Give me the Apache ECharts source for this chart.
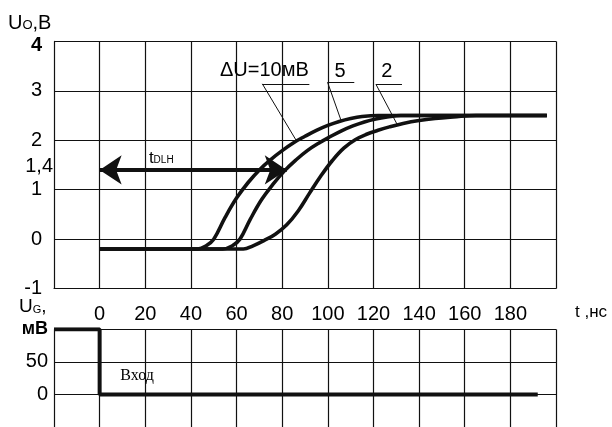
<!DOCTYPE html>
<html><head><meta charset="utf-8">
<script src="https://cdn.jsdelivr.net/npm/echarts@6/dist/echarts.min.js"></script>
<style>html,body{margin:0;padding:0;background:#fff}#c{width:612px;height:427px}</style>
</head><body><div id="c"></div>
<script>
// ---- data ----
const tHidden = [-20, 200];                // tick values without label
const uoLabels = [-1, 0, 1, 2, 3, 4];       // output voltage tick labels (V)
const uoExtra = 1.4;                        // extra marked level (V)
const ugLabels = [0, 50, 100];              // input tick labels (mV)
const curve10 = [[0,-0.2],[43,-0.2],[46.5,-0.14],[50,0],[55,0.44],[60,0.83],[65,1.14],[70,1.4],[75,1.61],[80,1.79],[85,1.95],[90,2.08],[95,2.2],[100,2.3],[105,2.38],[110,2.44],[115,2.48],[122,2.5],[196,2.5]];
const curve5  = [[0,-0.2],[54,-0.2],[58,-0.14],[61.5,0],[66,0.4],[71,0.8],[76,1.11],[81,1.38],[86,1.6],[91,1.79],[96,1.94],[101,2.07],[106,2.19],[111,2.29],[116,2.37],[121,2.43],[126,2.47],[132,2.5],[196,2.5]];
const curve2  = [[0,-0.2],[63,-0.2],[67,-0.14],[72,-0.03],[77,0.1],[82,0.29],[87,0.57],[92,0.93],[97,1.28],[102,1.59],[107,1.84],[112,2.01],[117,2.12],[122,2.2],[127,2.27],[133,2.34],[140,2.4],[147,2.44],[155,2.47],[165,2.5],[196,2.5]];
const inputSignal = [[-20,100],[0,100],[0,0],[192,0]];
const tdlhLevel = 1.4, tdlhStart = 0, tdlhEnd = 82;
const curveNames = ['ΔU=10мВ', '5', '2'];
const inputName = 'Вход';

// ---- annotation placement (data coords) ----
const noteText = [[72.2,3.41],[105.4,3.39],[125.8,3.39]];
const noteUnder = [[[71.3,3.14],[91.9,3.14]],[[99.9,3.17],[111.6,3.17]],[[121.1,3.13],[132.5,3.13]]];
const noteLeader = [[[71.3,3.14],[86.1,2.0]],[[99.9,3.17],[105.8,2.4]],[[121.1,3.13],[130.5,2.31]]];
const tdlhTextPos = [27, 1.64];
const inputTextPos = [16.4, 28.4];

const FS = "'Liberation Sans',Arial,sans-serif";
const K = '#111';

const chart = echarts.init(document.getElementById('c'));
const lineStyleCurve = {color: K, width: 3.6};
const textItem = {opacity: 1, color: '#000'};

const annoData = noteText.map((p,i)=>({value:p, label:{formatter: curveNames[i]}}));
const thinLines = [];
noteUnder.concat(noteLeader).forEach(s=>thinLines.push([{coord:s[0]},{coord:s[1]}]));

chart.setOption({
  animation: false,
  backgroundColor: '#fff',
  grid: [
    {left: 54, right: 56, top: 41.3, height: 247.3},
    {left: 54, right: 56, top: 329.3, height: 102}
  ],
  xAxis: [
    {gridIndex:0, type:'value', min:-20, max:200, interval:20,
     axisLine:{show:true, onZero:false, lineStyle:{color:K, width:1}},
     axisTick:{show:false},
     axisLabel:{color:'#000', fontFamily:FS, fontSize:20, margin:16,
       formatter: v => tHidden.includes(v) ? '' : String(v)},
     splitLine:{show:true, lineStyle:{color:K, width:1.2}}},
    {gridIndex:1, type:'value', min:-20, max:200, interval:20,
     axisLine:{show:false}, axisTick:{show:false}, axisLabel:{show:false},
     splitLine:{show:true, lineStyle:{color:K, width:1.2}}}
  ],
  yAxis: [
    {gridIndex:0, type:'value', min:-1, max:4, interval:1,
     axisLine:{show:true, onZero:false, lineStyle:{color:K, width:1}},
     axisTick:{show:false},
     axisLabel:{customValues: uoLabels, color:'#000', fontFamily:FS, fontSize:20, margin:12,
       formatter: v => v === 4 ? '{b|4}' : String(v),
       rich:{b:{fontFamily:FS, fontSize:20, fontWeight:'bold', color:'#000', padding:[8,0,0,0]}}},
     splitLine:{show:true, lineStyle:{color:K, width:1.2}}},
    {gridIndex:1, type:'value', min:-50, max:100, interval:50,
     axisLine:{show:true, onZero:false, lineStyle:{color:K, width:1}},
     axisTick:{show:false},
     axisLabel:{customValues: ugLabels, color:'#000', fontFamily:FS, fontSize:20, margin:6,
       formatter: v => v === 100 ? '{u|мВ}' : String(v),
       rich:{u:{fontFamily:FS, fontSize:18, fontWeight:'bold', color:'#000'}}},
     splitLine:{show:true, lineStyle:{color:K, width:1.2}}}
  ],
  series: [
    {type:'line', name:curveNames[0], xAxisIndex:0, yAxisIndex:0, data:curve10, showSymbol:false, smooth:0.4, lineStyle:lineStyleCurve, z:5},
    {type:'line', name:curveNames[1], xAxisIndex:0, yAxisIndex:0, data:curve5, showSymbol:false, smooth:0.4, lineStyle:lineStyleCurve, z:5},
    {type:'line', name:curveNames[2], xAxisIndex:0, yAxisIndex:0, data:curve2, showSymbol:false, smooth:0.4, lineStyle:lineStyleCurve, z:5},
    {type:'line', name:inputName, xAxisIndex:1, yAxisIndex:1, data:inputSignal, showSymbol:false, lineStyle:{color:K, width:4}, z:5},
    // tDLH arrow
    {type:'line', xAxisIndex:0, yAxisIndex:0, data:[], z:6,
     markLine:{silent:true, symbol:['arrow','arrow'], symbolSize:[22,22],
       lineStyle:{color:K, width:4, type:'solid'}, label:{show:false},
       data:[[{coord:[tdlhStart,tdlhLevel]},{coord:[tdlhEnd,tdlhLevel]}]]}},
    // leader lines and underlines
    {type:'line', xAxisIndex:0, yAxisIndex:0, data:[], z:4,
     markLine:{silent:true, symbol:['none','none'],
       lineStyle:{color:K, width:1, type:'solid'}, label:{show:false}, data:thinLines}},
    // annotation texts
    {type:'scatter', xAxisIndex:0, yAxisIndex:0, symbolSize:0, data:annoData, z:7, itemStyle:textItem,
     label:{show:true, position:'inside', color:'#000', opacity:1, fontFamily:FS, fontSize:20}},
    // extra level label "1,4" at the axis
    {type:'scatter', xAxisIndex:0, yAxisIndex:0, symbolSize:0, z:7, clip:false, itemStyle:textItem,
     data:[{value:[-20, uoExtra]}],
     label:{show:true, position:'left', distance:1, offset:[0,-3], color:'#000', opacity:1, fontFamily:FS, fontSize:20,
       formatter: p => String(p.value[1]).replace('.', ',')}},
    {type:'scatter', xAxisIndex:0, yAxisIndex:0, symbolSize:0, z:7, itemStyle:textItem,
     data:[{value:tdlhTextPos}],
     label:{show:true, position:'inside', opacity:1, formatter:'{t|t}{s|DLH}',
       rich:{t:{fontFamily:FS, fontSize:17, color:'#000', verticalAlign:'bottom'},
             s:{fontFamily:FS, fontSize:10, color:'#000', verticalAlign:'bottom', padding:[0,0,1,0]}}}},
    {type:'scatter', xAxisIndex:1, yAxisIndex:1, symbolSize:0, z:7, itemStyle:textItem,
     data:[{value:inputTextPos}],
     label:{show:true, position:'inside', opacity:1, formatter:inputName, color:'#000',
       fontFamily:"'Liberation Serif','Times New Roman',serif", fontSize:16}}
  ],
  graphic: [
    {type:'text', left:8, top:13, style:{text:'{u|U}{o|O}{u|,B}', rich:{
      u:{fontFamily:FS, fontSize:20, fill:'#000', verticalAlign:'bottom'},
      o:{fontFamily:FS, fontSize:13, fill:'#000', verticalAlign:'bottom', padding:[0,0,1,0]}}}},
    {type:'text', left:19, top:297, style:{text:'{u|U}{o|G}{u|,}', rich:{
      u:{fontFamily:FS, fontSize:19, fill:'#000', verticalAlign:'bottom'},
      o:{fontFamily:FS, fontSize:11, fill:'#000', verticalAlign:'bottom', padding:[0,0,1,0]}}}},
    {type:'text', left:575, top:304, style:{text:'t ,нс', fontFamily:FS, fontSize:17, fill:'#000'}}
  ]
});
</script></body></html>
